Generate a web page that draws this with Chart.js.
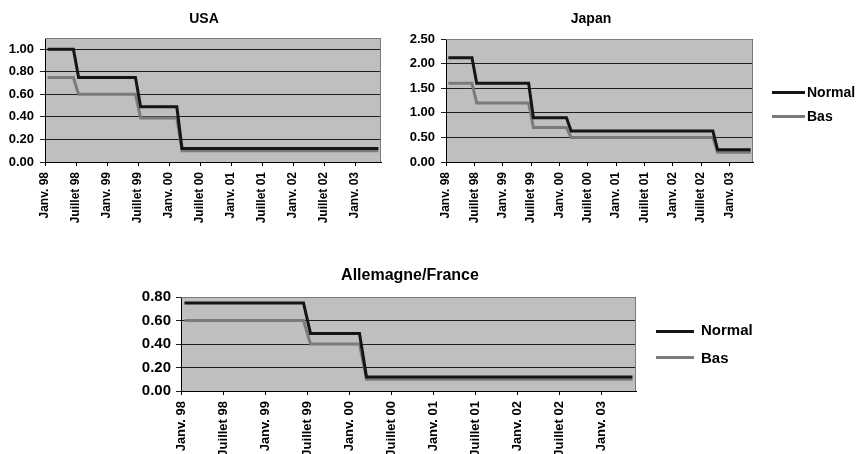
<!DOCTYPE html>
<html><head><meta charset="utf-8">
<script src="https://cdn.jsdelivr.net/npm/chart.js@4.4.1/dist/chart.umd.min.js"></script>
<style>
html,body{margin:0;padding:0;background:#fff;width:862px;height:454px;overflow:hidden;position:relative;font-family:"Liberation Sans",Arial,Helvetica,sans-serif;}
canvas{position:absolute;}
.lt{position:absolute;font-weight:bold;color:#000;white-space:nowrap;}
.ln{position:absolute;height:3px;}
</style></head><body>
<canvas id="cUSA" width="408" height="235" style="left:0px;top:0px"></canvas>
<canvas id="cJP" width="382" height="235" style="left:400px;top:0px"></canvas>
<canvas id="cDE" width="820" height="204" style="left:0px;top:250px"></canvas>

<div class="ln" style="left:772px;top:91px;width:33px;background:#151515"></div>
<div class="lt" style="left:807px;top:84px;font-size:14px;line-height:16px">Normal</div>
<div class="ln" style="left:772px;top:115px;width:33px;background:#7b7b7b"></div>
<div class="lt" style="left:807px;top:108px;font-size:14px;line-height:16px">Bas</div>

<div class="ln" style="left:656px;top:330px;width:38px;background:#151515"></div>
<div class="lt" style="left:701px;top:321px;font-size:15px;line-height:17px">Normal</div>
<div class="ln" style="left:656px;top:356px;width:38px;background:#7b7b7b"></div>
<div class="lt" style="left:701px;top:349px;font-size:15px;line-height:17px">Bas</div>

<script>
// Monthly categories, Jan 1998 - May 2003
const months = [
  '01/98','02/98','03/98','04/98','05/98','06/98','07/98','08/98','09/98','10/98','11/98','12/98',
  '01/99','02/99','03/99','04/99','05/99','06/99','07/99','08/99','09/99','10/99','11/99','12/99',
  '01/00','02/00','03/00','04/00','05/00','06/00','07/00','08/00','09/00','10/00','11/00','12/00',
  '01/01','02/01','03/01','04/01','05/01','06/01','07/01','08/01','09/01','10/01','11/01','12/01',
  '01/02','02/02','03/02','04/02','05/02','06/02','07/02','08/02','09/02','10/02','11/02','12/02',
  '01/03','02/03','03/03','04/03','05/03'
];
const tickLabels = ['Janv. 98','Juillet 98','Janv. 99','Juillet 99','Janv. 00','Juillet 00',
                    'Janv. 01','Juillet 01','Janv. 02','Juillet 02','Janv. 03'];
const seriesNames = ['Normal','Bas'];

const usaYTicks = [0, 0.2, 0.4, 0.6, 0.8, 1.0];
const jpYTicks = [0, 0.5, 1.0, 1.5, 2.0, 2.5];
const deYTicks = [0, 0.2, 0.4, 0.6, 0.8];

const usaNormal = [
  1.00,1.00,1.00,1.00,1.00,1.00,0.75,0.75,0.75,0.75,0.75,0.75,
  0.75,0.75,0.75,0.75,0.75,0.75,0.49,0.49,0.49,0.49,0.49,0.49,
  0.49,0.49,0.12,0.12,0.12,0.12,0.12,0.12,0.12,0.12,0.12,0.12,
  0.12,0.12,0.12,0.12,0.12,0.12,0.12,0.12,0.12,0.12,0.12,0.12,
  0.12,0.12,0.12,0.12,0.12,0.12,0.12,0.12,0.12,0.12,0.12,0.12,
  0.12,0.12,0.12,0.12,0.12
];
const usaBas = [
  0.75,0.75,0.75,0.75,0.75,0.75,0.60,0.60,0.60,0.60,0.60,0.60,
  0.60,0.60,0.60,0.60,0.60,0.60,0.39,0.39,0.39,0.39,0.39,0.39,
  0.39,0.39,0.10,0.10,0.10,0.10,0.10,0.10,0.10,0.10,0.10,0.10,
  0.10,0.10,0.10,0.10,0.10,0.10,0.10,0.10,0.10,0.10,0.10,0.10,
  0.10,0.10,0.10,0.10,0.10,0.10,0.10,0.10,0.10,0.10,0.10,0.10,
  0.10,0.10,0.10,0.10,0.10
];
const jpNormal = [
  2.12,2.12,2.12,2.12,2.12,2.12,1.60,1.60,1.60,1.60,1.60,1.60,
  1.60,1.60,1.60,1.60,1.60,1.60,0.90,0.90,0.90,0.90,0.90,0.90,
  0.90,0.90,0.63,0.63,0.63,0.63,0.63,0.63,0.63,0.63,0.63,0.63,
  0.63,0.63,0.63,0.63,0.63,0.63,0.63,0.63,0.63,0.63,0.63,0.63,
  0.63,0.63,0.63,0.63,0.63,0.63,0.63,0.63,0.63,0.25,0.25,0.25,
  0.25,0.25,0.25,0.25,0.25
];
const jpBas = [
  1.60,1.60,1.60,1.60,1.60,1.60,1.20,1.20,1.20,1.20,1.20,1.20,
  1.20,1.20,1.20,1.20,1.20,1.20,0.70,0.70,0.70,0.70,0.70,0.70,
  0.70,0.70,0.50,0.50,0.50,0.50,0.50,0.50,0.50,0.50,0.50,0.50,
  0.50,0.50,0.50,0.50,0.50,0.50,0.50,0.50,0.50,0.50,0.50,0.50,
  0.50,0.50,0.50,0.50,0.50,0.50,0.50,0.50,0.50,0.20,0.20,0.20,
  0.20,0.20,0.20,0.20,0.20
];
const deNormal = [
  0.75,0.75,0.75,0.75,0.75,0.75,0.75,0.75,0.75,0.75,0.75,0.75,
  0.75,0.75,0.75,0.75,0.75,0.75,0.49,0.49,0.49,0.49,0.49,0.49,
  0.49,0.49,0.12,0.12,0.12,0.12,0.12,0.12,0.12,0.12,0.12,0.12,
  0.12,0.12,0.12,0.12,0.12,0.12,0.12,0.12,0.12,0.12,0.12,0.12,
  0.12,0.12,0.12,0.12,0.12,0.12,0.12,0.12,0.12,0.12,0.12,0.12,
  0.12,0.12,0.12,0.12,0.12
];
const deBas = [
  0.60,0.60,0.60,0.60,0.60,0.60,0.60,0.60,0.60,0.60,0.60,0.60,
  0.60,0.60,0.60,0.60,0.60,0.60,0.40,0.40,0.40,0.40,0.40,0.40,
  0.40,0.40,0.10,0.10,0.10,0.10,0.10,0.10,0.10,0.10,0.10,0.10,
  0.10,0.10,0.10,0.10,0.10,0.10,0.10,0.10,0.10,0.10,0.10,0.10,
  0.10,0.10,0.10,0.10,0.10,0.10,0.10,0.10,0.10,0.10,0.10,0.10,
  0.10,0.10,0.10,0.10,0.10
];

Chart.defaults.font.family = '"Liberation Sans", Arial, Helvetica, sans-serif';
Chart.defaults.color = '#000';

const plotBg = {
  id: 'plotBg',
  beforeDraw(chart) {
    const {ctx, chartArea: a} = chart;
    ctx.save();
    ctx.fillStyle = '#bebfc1';
    ctx.fillRect(a.left, a.top, a.right - a.left, a.bottom - a.top);
    ctx.restore();
  },
  beforeDatasetsDraw(chart) {
    const {ctx, chartArea: a} = chart;
    ctx.save();
    ctx.strokeStyle = '#7a7a7a';
    ctx.lineWidth = 1;
    ctx.beginPath();
    ctx.moveTo(a.left, Math.round(a.top) + 0.5);
    ctx.lineTo(Math.round(a.right) - 0.5, Math.round(a.top) + 0.5);
    ctx.lineTo(Math.round(a.right) - 0.5, a.bottom);
    ctx.stroke();
    ctx.restore();
  }
};

function build(id, o) {
  const yw = o.areaLeft - o.canvasLeft;
  return new Chart(document.getElementById(id), {
    type: 'line',
    data: {
      labels: months,
      datasets: [
        {label: seriesNames[0], data: o.normal, borderColor: '#151515', borderWidth: 3,
         pointRadius: 0, tension: 0, fill: false, borderJoinStyle: 'miter'},
        {label: seriesNames[1], data: o.bas, borderColor: '#7b7b7b', borderWidth: 3,
         pointRadius: 0, tension: 0, fill: false, borderJoinStyle: 'miter'}
      ]
    },
    options: {
      responsive: false, animation: false, events: [],
      layout: {padding: 0},
      plugins: {
        legend: {display: false}, tooltip: {enabled: false},
        title: {display: true, text: o.title, color: '#000',
                font: {size: o.titleSize, weight: 'bold', lineHeight: 1.2},
                padding: {top: o.titleTop, bottom: o.titleBottom}}
      },
      scales: {
        x: {
          type: 'category', offset: true,
          grid: {offset: true, drawOnChartArea: false, drawTicks: true, tickLength: 4, lineWidth: 1,
                 color: c => (c.index % 6 === 0 ? '#000' : 'rgba(0,0,0,0)')},
          border: {display: true, color: '#000', width: 1},
          ticks: {autoSkip: false, maxRotation: 90, minRotation: 90, padding: o.xPad,
                  labelOffset: o.labelOffset, color: '#000',
                  font: {size: o.xSize, weight: 'bold'},
                  callback: (v, i) => (i % 6 === 0 ? tickLabels[i / 6] : '')},
          afterFit: s => { s.height = o.xHeight; }
        },
        y: {
          min: 0, max: o.yMax,
          ticks: {padding: o.yPad, color: '#000',
                  font: {size: o.ySize, weight: 'bold'},
                  callback: v => Number(v).toFixed(2)},
          grid: {color: '#1e1e1e', lineWidth: 1, tickLength: 5},
          border: {display: true, color: '#000', width: 1},
          afterBuildTicks: s => { s.ticks = o.yTicks.map(v => ({value: v})); },
          afterFit: s => { s.width = yw; }
        },
        spacer: {
          position: 'right', display: true, min: 0, max: 1,
          grid: {display: false, drawTicks: false},
          ticks: {display: false},
          border: {display: false},
          afterFit: s => { s.width = o.padRight; }
        }
      }
    },
    plugins: [plotBg]
  });
}

build('cUSA', {title: 'USA', normal: usaNormal, bas: usaBas, yTicks: usaYTicks,
  canvasLeft: 0, areaLeft: 45, padRight: 27,
  titleSize: 14, titleTop: 11, titleBottom: 10.2,
  xHeight: 73, xPad: 6, xSize: 12, labelOffset: -2.6,
  yMax: 1.1, ySize: 13, yPad: 6});

build('cJP', {title: 'Japan', normal: jpNormal, bas: jpBas, yTicks: jpYTicks,
  canvasLeft: 400, areaLeft: 446, padRight: 29,
  titleSize: 14, titleTop: 11, titleBottom: 11.2,
  xHeight: 73, xPad: 6, xSize: 12, labelOffset: -2.4,
  yMax: 2.5, ySize: 13, yPad: 6});

build('cDE', {title: 'Allemagne/France', normal: deNormal, bas: deBas, yTicks: deYTicks,
  canvasLeft: 0, areaLeft: 181, padRight: 184,
  titleSize: 16, titleTop: 16.4, titleBottom: 11.4,
  xHeight: 63, xPad: 6, xSize: 13, labelOffset: -3.5,
  yMax: 0.8, ySize: 15, yPad: 5});
</script>
</body></html>
